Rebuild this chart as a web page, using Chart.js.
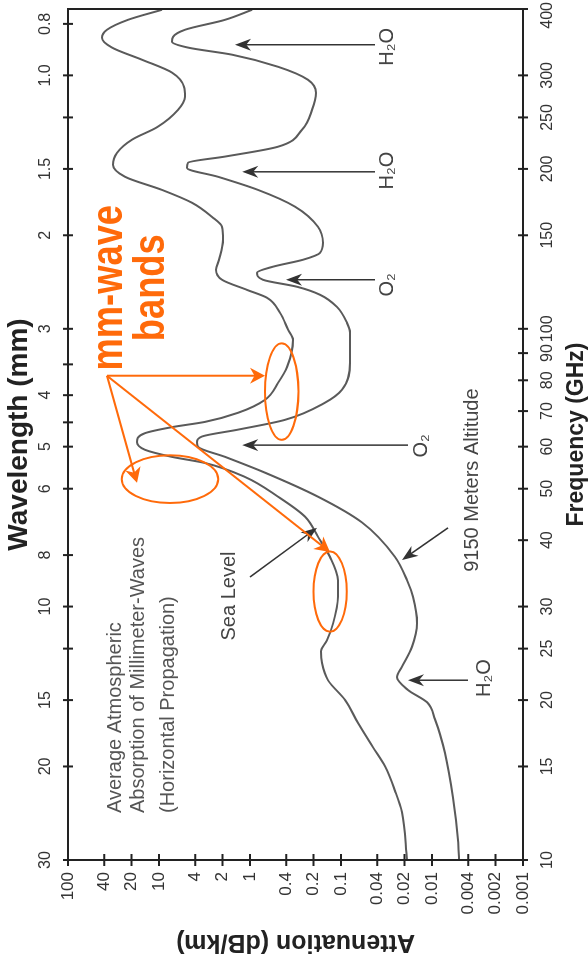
<!DOCTYPE html>
<html>
<head>
<meta charset="utf-8">
<script src="https://cdn.jsdelivr.net/npm/chart.js@4"></script>
<style>
html,body{margin:0;padding:0;background:#fff;width:588px;height:962px;overflow:hidden}
#wrap{position:absolute;left:0;top:0;width:962px;height:588px;transform-origin:0 0;transform:translateY(962px) rotate(-90deg);background:#fff}
</style>
</head>
<body>
<div id="wrap"><canvas id="c" width="962" height="588"></canvas></div>
<script>
// ---- data (frequency in GHz, attenuation in dB/km) ----
const seaFreq = [10.0,12.3,13.5,15.0,16.3,18.1,20.0,21.8,23.5,24.7,25.9,27.9,31.3,33.6,37.2,40.6,44.3,48.3,52.6,55.9,57.4,59.2,61.2,63.6,65.3,66.8,69.5,73.5,79.1,84.7,95.3,99.6,107.2,114.4,118.4,123.7,129.2,134.9,147.1,155.6,162.5,172.7,182.6,193.3,203.5,214.4,227.0,240.1,258.3,273.3,285.5,303.6,321.1,338.4,353.0,365.6,381.7,398.7];
const seaAtten = [0.0188,0.0214,0.0255,0.0328,0.0445,0.065,0.090,0.139,0.162,0.166,0.143,0.122,0.108,0.108,0.132,0.179,0.249,0.492,1.13,3.12,7.2,14.3,17.5,14.3,7.2,3.12,1.35,0.684,0.492,0.392,0.337,0.382,0.468,0.650,1.08,2.03,2.36,2.19,1.98,2.03,2.62,4.34,9.27,23.6,32.0,28.9,19.8,10.3,6.18,5.18,5.31,7.2,15.4,32.9,42.3,37.3,21.9,9.27];
const altFreq = [10.0,10.9,13.1,15.9,18.4,19.8,20.9,22.1,23.1,25.2,27.9,31.3,33.6,37.2,43.2,48.3,53.6,57.4,60.0,61.2,62.7,64.6,67.4,72.6,76.8,86.3,98.3,102.6,110.0,115.9,120.0,123.7,127.5,130.9,134.9,139.0,145.2,155.6,169.8,182.6,193.3,200.9,205.4,211.0,220.2,237.0,258.3,278.1,294.4,311.4,328.2,338.4,347.1,354.6,365.6,381.7,398.7];
const altAtten = [0.00505,0.00518,0.00588,0.0072,0.00927,0.0113,0.0184,0.0243,0.0214,0.0166,0.0146,0.0162,0.0188,0.0255,0.0588,0.179,0.684,1.88,3.73,3.82,3.37,1.35,0.412,0.150,0.0975,0.0796,0.0796,0.0859,0.111,0.170,0.305,0.720,0.838,0.559,0.262,0.170,0.158,0.179,0.320,0.817,2.25,4.92,4.80,1.88,0.492,0.268,0.208,0.188,0.231,0.492,1.58,4.80,7.2,7.0,5.18,1.88,0.95];

// ---- ticks ----
const freqTicks = [10,15,20,25,30,40,50,60,70,80,90,100,150,200,250,300,400];
const attenTicks = [100,40,20,10,4,2,1,0.4,0.2,0.1,0.04,0.02,0.01,0.004,0.002,0.001];
const wavelengthTicks = [30,20,15,12,10,8,6,5,4.5,4,3.5,3,2,1.5,1.2,1.0,0.8];
const wavelengthLabels = ['30','20','15','','10','8','6','5','','4','','3','2','1.5','','1.0','0.8'];
const freqMax = 400;

// ---- annotations (anchored in data units: [GHz, dB/km]) ----
const arrowNotes = [
  {label:'H₂O', tip:[342.6,1.46], tail:[342.6,0.0423], text:[339.6,0.0305]},
  {label:'H₂O', tip:[197.5,1.22], tail:[197.5,0.0423], text:[198.5,0.0305]},
  {label:'O₂', tip:[123.7,0.402], tail:[123.7,0.0423], text:[121.0,0.0305]},
  {label:'O₂', tip:[60.4,1.22], tail:[60.4,0.0184], text:[60.2,0.0129]},
  {label:'H₂O', tip:[21.8,0.0184], tail:[21.8,0.00402], text:[22.0,0.00262]},
  {label:'Sea Level', tip:[42.2,0.184], tail:[34.1,1.0], text:[31.4,1.70]},
  {label:'9150 Meters Altitude', tip:[36.7,0.0214], tail:[42.2,0.00667], text:[51.9,0.00363]}
];
const noteLines = ['Average Atmospheric','Absorption of Millimeter-Waves','(Horizontal Propagation)'];
const noteAnchorFreq = 12.26;
const noteLineAtten = [30.4,16.6,7.96];

const bandLines = ['mm-wave','bands'];
const bandTextFreq = 119.5;
const bandBaselineAtten = [25.5,8.81];
const bandArrowFrom = [81.6,37.3];
const bandArrowTips = [[81.6,0.684],[51.3,17.5],[38.0,0.132]];
const bandEllipses = [
  {f:[61.8,93.9], a:[0.294,0.684]},
  {f:[47.0,57.8], a:[2.23,25.7]},
  {f:[26.9,38.1], a:[0.0865,0.201]}
];

const FONT = 'Liberation Sans, Arial, Helvetica, sans-serif';
const ORANGE = '#ff6a0a';

function drawArrow(ctx,x1,y1,x2,y2,color,len,half,width){
  const ang = Math.atan2(y2-y1,x2-x1), c = Math.cos(ang), s = Math.sin(ang);
  ctx.strokeStyle = color; ctx.fillStyle = color; ctx.lineWidth = width;
  ctx.beginPath(); ctx.moveTo(x1,y1); ctx.lineTo(x2-c*len*0.6, y2-s*len*0.6); ctx.stroke();
  ctx.beginPath();
  ctx.moveTo(x2,y2);
  ctx.lineTo(x2-len*c+half*s, y2-len*s-half*c);
  ctx.lineTo(x2-len*0.7*c, y2-len*0.7*s);
  ctx.lineTo(x2-len*c-half*s, y2-len*s+half*c);
  ctx.closePath(); ctx.fill();
}

const notesPlugin = {
  id:'notes',
  afterDatasetsDraw(chart){
    const {ctx, chartArea:ca, scales} = chart;
    const px = f => scales.x.getPixelForValue(f);
    const py = a => scales.y.getPixelForValue(a);
    ctx.save();
    // frame
    ctx.strokeStyle = '#222'; ctx.lineWidth = 2;
    ctx.strokeRect(ca.left, ca.top, ca.right-ca.left, ca.bottom-ca.top);
    // crossing tick marks
    ctx.beginPath();
    freqTicks.forEach(f => { const X = px(f); ctx.moveTo(X, ca.bottom-5); ctx.lineTo(X, ca.bottom+5); });
    wavelengthTicks.forEach(w => { const X = scales.xTop.getPixelForValue(300/w); ctx.moveTo(X, ca.top-5); ctx.lineTo(X, ca.top+5); });
    attenTicks.forEach(a => { const Y = py(a); ctx.moveTo(ca.left-6, Y); ctx.lineTo(ca.left+6, Y); });
    ctx.stroke();

    // last frequency label kept inside the canvas
    ctx.font = '16px ' + FONT; ctx.fillStyle = '#333';
    ctx.textAlign = 'right'; ctx.textBaseline = 'middle';
    ctx.fillText(String(freqMax), Math.min(px(freqMax) + 8, chart.width - 2), ca.bottom + 24.6);

    // gray arrows + labels
    ctx.font = '20px ' + FONT;
    ctx.textAlign = 'center'; ctx.textBaseline = 'middle';
    arrowNotes.forEach(n => {
      drawArrow(ctx, px(n.tail[0]), py(n.tail[1]), px(n.tip[0]), py(n.tip[1]), '#333', 16, 6, 1.5);
      ctx.fillStyle = '#444';
      ctx.fillText(n.label, px(n.text[0]), py(n.text[1]));
    });
    // description block
    ctx.textAlign = 'left'; ctx.fillStyle = '#555';
    noteLines.forEach((t,i) => ctx.fillText(t, px(noteAnchorFreq), py(noteLineAtten[i])));

    // orange highlights
    ctx.strokeStyle = ORANGE; ctx.lineWidth = 2;
    bandEllipses.forEach(e => {
      const x1 = px(e.f[0]), x2 = px(e.f[1]), y1 = py(e.a[0]), y2 = py(e.a[1]);
      ctx.beginPath();
      ctx.ellipse((x1+x2)/2, (y1+y2)/2, Math.abs(x2-x1)/2, Math.abs(y2-y1)/2, 0, 0, Math.PI*2);
      ctx.stroke();
    });
    bandArrowTips.forEach(t => drawArrow(ctx, px(bandArrowFrom[0]), py(bandArrowFrom[1]), px(t[0]), py(t[1]), ORANGE, 15, 8, 2));
    ctx.fillStyle = ORANGE; ctx.textAlign = 'center'; ctx.textBaseline = 'alphabetic';
    ctx.font = 'bold 44px ' + FONT;
    bandLines.forEach((t,i) => {
      ctx.save();
      ctx.translate(px(bandTextFreq), py(bandBaselineAtten[i]));
      ctx.scale(0.825, 1);
      ctx.fillText(t, 0, 0);
      ctx.restore();
    });
    ctx.restore();
  }
};

const tickFont = size => ({family: FONT, size: size});
function fitH(h){ return s => { s.height = h; s.paddingLeft = 0; s.paddingRight = 0; }; }

new Chart(document.getElementById('c'), {
  type: 'scatter',
  data: {
    datasets: [
      {label:'Sea Level', data: seaFreq.map((f,i) => ({x:f, y:seaAtten[i]})), showLine:true,
       borderColor:'#5a5a5a', borderWidth:2, pointRadius:0, cubicInterpolationMode:'monotone', xAxisID:'x', yAxisID:'y'},
      {label:'9150 Meters Altitude', data: altFreq.map((f,i) => ({x:f, y:altAtten[i]})), showLine:true,
       borderColor:'#5a5a5a', borderWidth:2, pointRadius:0, cubicInterpolationMode:'monotone', xAxisID:'x', yAxisID:'y'}
    ]
  },
  options: {
    responsive:false, animation:false, devicePixelRatio:1,
    layout:{padding:{left:0,right:9,top:0,bottom:0}, autoPadding:false},
    plugins:{legend:{display:false}, tooltip:{enabled:false}},
    scales:{
      x:{
        type:'logarithmic', position:'bottom', min:10, max:freqMax,
        afterFit: fitH(65),
        afterBuildTicks(s){ s.ticks = freqTicks.map(v => ({value:v})); },
        ticks:{autoSkip:false, maxRotation:0, minRotation:0, padding:15, font:tickFont(16), color:'#333',
               callback:v => (v === freqMax ? '' : String(v))},
        grid:{display:false, drawTicks:false}, border:{display:false},
        title:{display:true, text:'Frequency (GHz)', color:'#222', font:{family:FONT, size:23, weight:'bold', lineHeight:1}, padding:{top:0,bottom:0}}
      },
      xTop:{
        type:'logarithmic', position:'top', min:10, max:freqMax,
        afterFit: fitH(68),
        afterBuildTicks(s){ s.ticks = wavelengthTicks.map(w => ({value:300/w})); },
        ticks:{autoSkip:false, maxRotation:0, minRotation:0, padding:13, font:tickFont(16), color:'#333', callback:(v,i) => wavelengthLabels[i]},
        grid:{display:false, drawTicks:false}, border:{display:false},
        title:{display:true, text:'Wavelength (mm)', color:'#222', font:{family:FONT, size:28, weight:'bold', lineHeight:1}, padding:{top:5,bottom:0}}
      },
      y:{
        type:'logarithmic', position:'left', min:0.001, max:100,
        afterFit(s){ s.width = 102; s.paddingTop = 0; s.paddingBottom = 0; },
        afterBuildTicks(s){ s.ticks = attenTicks.map(v => ({value:v})); },
        ticks:{autoSkip:false, padding:12, font:tickFont(17), color:'#333', callback:v => String(v)},
        grid:{display:false, drawTicks:false}, border:{display:false},
        title:{display:true, text:'Attenuation (dB/km)', color:'#222', font:{family:FONT, size:25, weight:'bold', lineHeight:1}, padding:{top:8,bottom:0}}
      }
    }
  },
  plugins:[notesPlugin]
});
</script>
</body>
</html>
